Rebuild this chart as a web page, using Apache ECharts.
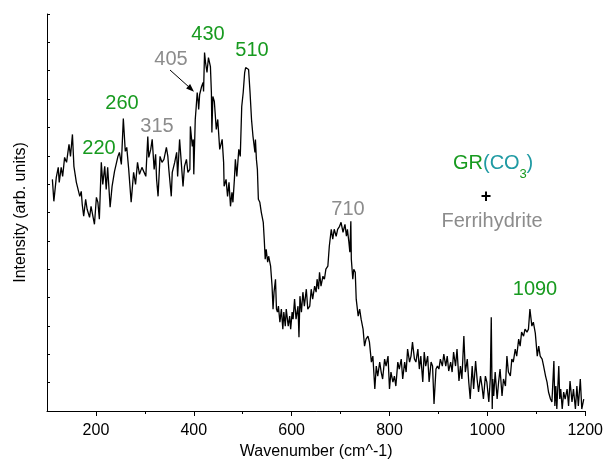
<!DOCTYPE html>
<html>
<head>
<meta charset="utf-8">
<script src="https://cdn.jsdelivr.net/npm/echarts@6/dist/echarts.min.js"></script>
<style>
  html, body { margin: 0; padding: 0; background: #fff; }
  #chart { width: 606px; height: 473px; }
</style>
</head>
<body>
<div id="chart"></div>
<script>
// Raman spectrum (wavenumber in cm^-1, intensity in arb. units)
var wavenumber = [
  111,114,119,123,125,129,132,136,140,143,145,148,152,155,160,163,167,170,172,175,179,182,187,190,197,201,204,207,211,214,218,221,224,229,233,238,245,248,252,256,260,263,267,272,277,281,285,289,294,
  298,302,306,308,312,315,319,322,324,327,331,335,339,344,347,349,354,356,361,365,367,371,378,381,385,388,392,393,397,399,400,403,405,407,409,410,412,416,419,420,422,424,427,430,434,436,437,439,442,446,449,453,458,461,462,466,469,472,475,478,480,483,485,488,492,495,498,
  501,504,506,508,510,512,515,518,521,525,526,528,530,532,535,538,542,544,546,548,551,553,557,560,562,564,567,569,571,573,576,579,582,584,587,589,593,596,598,601,603,606,609,613,615,617,620,623,626,630,633,637,640,643,647,650,652,655,657,660,664,667,670,674,677,681,684,687,691,694,698,701,
  705,709,712,714,717,719,721,722,725,727,730,732,736,739,742,746,749,752,756,759,763,766,770,773,776,780,783,786,790,793,797,800,803,807,810,813,817,820,824,827,831,834,837,841,844,847,851,854,858,861,864,868,871,874,878,881,885,888,891,895,898,
  901,904,908,911,915,918,921,925,928,931,935,938,942,945,948,952,955,959,962,965,969,972,976,979,982,986,989,992,996,999,1003,1006,1008,1010,1011,1013,1016,1020,1023,1026,1030,1033,1037,1040,1043,1047,1050,1053,1057,1060,1064,1067,1070,1074,1077,1081,1084,1087,1091,1094,1098,
  1102,1105,1108,1112,1115,1119,1122,1125,1129,1132,1136,1138,1140,1142,1146,1148,1150,1153,1156,1159,1163,1166,1169,1173,1176,1180,1183,1186,1190,1193,1197
];
var intensity = [
  232,210,234,244,229,244,235,254,249,260,267,255,277,245,229,230,215,220,207,195,212,202,194,205,187,214,209,192,249,227,245,222,244,204,225,240,255,259,247,293,260,264,242,209,239,227,249,237,244,
  245,235,275,254,262,272,242,257,232,215,255,249,252,264,255,242,215,239,249,259,235,272,225,245,252,239,242,285,265,272,237,292,305,319,310,302,317,325,329,320,359,349,339,354,345,319,279,315,310,282,292,262,272,249,225,232,215,229,205,219,209,232,252,235,262,255,305,
  319,339,344,342,345,342,319,292,275,259,272,252,242,212,209,199,189,172,152,162,149,155,145,125,102,119,132,102,99,105,89,102,82,99,85,102,85,95,82,99,92,112,92,105,74,115,99,119,105,122,102,105,122,112,125,119,132,122,139,125,135,132,142,145,165,182,172,182,175,182,185,189,
  179,187,175,182,169,159,190,152,132,142,139,112,95,102,92,82,65,72,75,69,49,55,22,45,35,49,39,32,52,45,55,22,39,29,35,25,49,42,52,32,49,39,62,49,55,69,52,49,62,42,55,29,59,45,55,29,49,45,7,42,45,
  42,52,45,57,45,55,40,49,39,59,45,62,30,45,32,75,39,52,29,12,45,22,50,32,19,35,25,12,35,29,9,32,94,2,32,15,39,12,29,42,15,32,25,55,39,35,52,49,62,55,72,65,79,75,82,79,82,102,85,89,78,
  55,65,55,52,45,35,29,19,12,9,50,5,25,2,45,12,22,2,19,12,22,5,30,9,22,2,25,5,32,2,12
];
var majorTicks = [200, 400, 600, 800, 1000, 1200];
var minorTicks = [300, 500, 700, 900, 1100];

var green = '#179a1f';
var teal = '#1f9aa3';
var grey = '#8c8c8c';
var font = 'Liberation Sans, Arial, sans-serif';

var points = wavenumber.map(function (w, i) { return [w, intensity[i]]; });

function label(text, x, y, color) {
  return {
    type: 'text', x: x, y: y,
    style: { text: text, fill: color, font: '20px ' + font, textAlign: 'center', textVerticalAlign: 'middle' }
  };
}

var chart = echarts.init(document.getElementById('chart'), null, { renderer: 'canvas' });

chart.setOption({
  animation: false,
  backgroundColor: '#fff',
  textStyle: { fontFamily: font },
  grid: { left: 47, right: 19, top: 14, bottom: 62 },
  xAxis: [{
    type: 'value', min: 100, max: 1200, interval: 100,
    name: 'Wavenumber (cm^-1)', nameLocation: 'middle', nameGap: 33,
    nameTextStyle: { fontSize: 16, color: '#000', fontFamily: font },
    axisLine: { lineStyle: { color: '#000', width: 1 } },
    axisTick: { show: true, length: 5, customValues: majorTicks, lineStyle: { color: '#000' } },
    axisLabel: {
      customValues: majorTicks, fontSize: 16, color: '#000', margin: 12, fontFamily: font,
      formatter: function (v) { return String(v); }
    },
    splitLine: { show: false }
  }, {
    type: 'value', min: 100, max: 1200, interval: 100, position: 'bottom',
    axisLine: { show: false },
    axisTick: { show: true, length: 3, customValues: minorTicks, lineStyle: { color: '#000' } },
    axisLabel: { show: false },
    splitLine: { show: false }
  }],
  yAxis: {
    type: 'value', min: 0, max: 397.6, interval: 28.4,
    name: 'Intensity (arb. units)', nameLocation: 'middle', nameGap: 18,
    nameTextStyle: { fontSize: 16, color: '#000', fontFamily: font },
    axisLine: { show: true, lineStyle: { color: '#000', width: 1 } },
    axisTick: { show: true, inside: true, length: 3, lineStyle: { color: '#000' } },
    axisLabel: { show: false },
    splitLine: { show: false }
  },
  series: [{
    type: 'line',
    data: points,
    showSymbol: false,
    symbol: 'none',
    lineStyle: { color: '#000', width: 1.3 },
    clip: true
  }],
  graphic: [
    label('220', 99, 148, green),
    label('260', 122, 103, green),
    label('315', 157, 126, grey),
    label('405', 171, 59, grey),
    label('430', 208, 34, green),
    label('510', 252, 50, green),
    label('710', 348, 209, grey),
    label('1090', 535, 289, green),
    { type: 'line', shape: { x1: 170, y1: 70, x2: 188.5, y2: 86.6 }, style: { stroke: '#000', lineWidth: 1 } },
    { type: 'polygon', shape: { points: [[194, 91.7], [186.1, 88.5], [190.1, 84.1]] }, style: { fill: '#000' } },
    { type: 'text', x: 453, y: 163, style: { text: 'GR', fill: green, font: '20px ' + font, textVerticalAlign: 'middle' } },
    { type: 'text', x: 483, y: 163, style: { text: '(CO', fill: teal, font: '20px ' + font, textVerticalAlign: 'middle' } },
    { type: 'text', x: 519.5, y: 174, style: { text: '3', fill: green, font: '13px ' + font, textVerticalAlign: 'middle' } },
    { type: 'text', x: 526.5, y: 163, style: { text: ')', fill: teal, font: '20px ' + font, textVerticalAlign: 'middle' } },
    { type: 'text', x: 486, y: 197, style: { text: '+', fill: '#000', font: 'bold 18px ' + font, textAlign: 'center', textVerticalAlign: 'middle' } },
    label('Ferrihydrite', 492, 221, grey)
  ]
});
</script>
</body>
</html>
